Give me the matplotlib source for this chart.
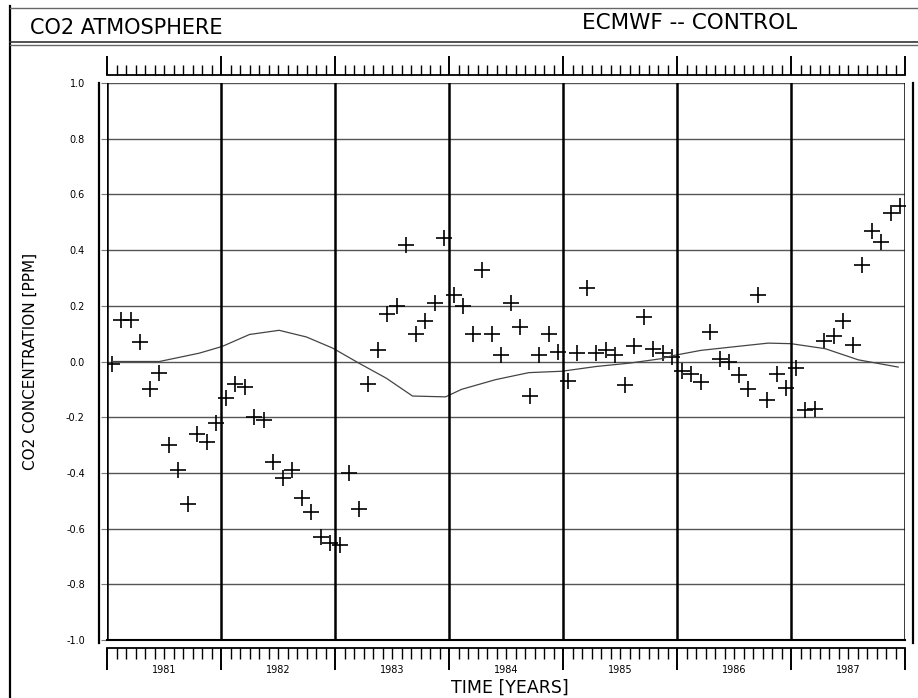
import numpy as np
import matplotlib
matplotlib.use('Agg')
import matplotlib.pyplot as plt
from matplotlib.lines import Line2D
from matplotlib.ticker import MultipleLocator

plt.rcParams['font.family'] = ['DejaVu Sans']

# monthly CO2 anomalies (ppm), one list per year
years = [1981, 1982, 1983, 1984, 1985, 1986, 1987]
co2_1981 = [-0.01, 0.15, 0.15, 0.07, -0.10, -0.04, -0.30, -0.39, -0.51, -0.26, -0.29, -0.22]
co2_1982 = [-0.13, -0.08, -0.09, -0.20, -0.21, -0.36, -0.42, -0.39, -0.49, -0.54, -0.63, -0.65]
co2_1983 = [-0.66, -0.40, -0.53, -0.08, 0.04, 0.17, 0.20, 0.42, 0.10, 0.145, 0.21, 0.445]
co2_1984 = [0.24, 0.20, 0.10, 0.33, 0.10, 0.025, 0.21, 0.125, -0.125, 0.025, 0.10, 0.035]
co2_1985 = [-0.07, 0.03, 0.265, 0.03, 0.04, 0.025, -0.085, 0.055, 0.16, 0.045, 0.03, 0.015]
co2_1986 = [-0.035, -0.045, -0.075, 0.105, 0.01, 0.0, -0.05, -0.10, 0.24, -0.14, -0.045, -0.095]
co2_1987 = [-0.025, -0.175, -0.17, 0.075, 0.09, 0.145, 0.06, 0.345, 0.47, 0.43, 0.535, 0.56]

# smooth curve (time in years, value in ppm)
line_t = [1981.05, 1981.46, 1981.81, 1982.01, 1982.25, 1982.51, 1982.75, 1982.98,
          1983.21, 1983.45, 1983.68, 1983.97, 1984.11, 1984.41, 1984.70, 1984.99,
          1985.29, 1985.58, 1985.86, 1985.95, 1986.21, 1986.48, 1986.80, 1987.00,
          1987.30, 1987.59, 1987.94]
line_v = [0.0, 0.0, 0.03, 0.054, 0.097, 0.112, 0.088, 0.048,
          -0.006, -0.06, -0.124, -0.127, -0.10, -0.065, -0.04, -0.035,
          -0.018, -0.006, 0.01, 0.02, 0.04, 0.052, 0.066, 0.064,
          0.046, 0.006, -0.02]

ytick_vals = [-1.0, -0.8, -0.6, -0.4, -0.2, 0.0, 0.2, 0.4, 0.6, 0.8, 1.0]

co2 = co2_1981 + co2_1982 + co2_1983 + co2_1984 + co2_1985 + co2_1986 + co2_1987
t = [y + (m + 0.5) / 12.0 for y in years for m in range(12)]

W, H = 918, 698
fig = plt.figure(figsize=(W / 100, H / 100), dpi=100)

def fx(px):
    return px / W

def fy(py):
    return 1 - py / H

def fline(xs, ys, lw=1.0, color='k'):
    fig.add_artist(Line2D([fx(x) for x in xs], [fy(y) for y in ys], lw=lw, color=color,
                          transform=fig.transFigure))

# page frame / header box
fline([10, 10], [6, 698], lw=1.6)
fline([10, 918], [8, 8], lw=1.0, color='#666666')
fline([10, 918], [42, 42], lw=1.2, color='#333333')
fline([10, 918], [45, 45], lw=1.0, color='#666666')
fig.text(fx(30), fy(28), 'CO2 ATMOSPHERE', fontsize=15, va='center', ha='left')
fig.text(fx(582), fy(23), 'ECMWF -- CONTROL', fontsize=15.5, va='center', ha='left')

# main plot area
ax = fig.add_axes([fx(107), fy(640), fx(905) - fx(107), fy(83) - fy(640)])
ax.plot(t, co2, linestyle='none', marker='+', markersize=11.5, mew=1.2, color='k')
ax.plot(line_t, line_v, color='#444444', lw=0.9)
ax.set_xlim(1981, 1988)
ax.set_ylim(-1.0, 1.0)
for y in years + [1988]:
    ax.axvline(y, color='k', lw=1.8)
ax.set_yticks(ytick_vals)
ax.set_yticklabels(['%.1f' % v for v in ytick_vals], fontsize=7)
ax.yaxis.grid(True, color='#555555', lw=1.0)
ax.set_xticks([])
ax.tick_params(axis='y', length=4, width=0.8, pad=12, color='#777777')
for s in ax.spines.values():
    s.set_visible(False)
ax.spines['bottom'].set_visible(True)
ax.spines['bottom'].set_linewidth(1.5)
ax.set_ylabel('CO2 CONCENTRATION [PPM]', fontsize=11, labelpad=20)

# double outer frame lines
fline([99, 99], [83, 643], lw=1.6)
fline([913, 913], [83, 643], lw=1.6)

# top ruler
axt = fig.add_axes([fx(107), fy(75), fx(905) - fx(107), 15 / H])
axt.set_xlim(1981, 1988)
axt.set_ylim(0, 1)
axt.xaxis.set_major_locator(MultipleLocator(1))
axt.xaxis.set_minor_locator(MultipleLocator(1 / 12))
axt.tick_params(axis='x', which='major', direction='in', length=14, width=1.4, labelbottom=False)
axt.tick_params(axis='x', which='minor', direction='in', length=7, width=1.0)
axt.set_yticks([])
for k in ['top', 'left', 'right']:
    axt.spines[k].set_visible(False)
axt.spines['bottom'].set_linewidth(1.3)
axt.patch.set_alpha(0)

# bottom ruler
axb = fig.add_axes([fx(107), fy(665), fx(905) - fx(107), 17 / H])
axb.set_xlim(1981, 1988)
axb.set_ylim(0, 1)
axb.xaxis.set_major_locator(MultipleLocator(1))
axb.xaxis.set_minor_locator(MultipleLocator(1 / 12))
axb.xaxis.set_ticks_position('top')
axb.tick_params(axis='x', which='major', direction='in', length=16, width=1.4, labeltop=False)
axb.tick_params(axis='x', which='minor', direction='in', length=8, width=1.0)
axb.set_yticks([])
for k in ['bottom', 'left', 'right']:
    axb.spines[k].set_visible(False)
axb.spines['top'].set_linewidth(1.3)
axb.patch.set_alpha(0)
for y in years:
    fig.text(fx(107) + (y + 0.5 - 1981) / 7 * (fx(905) - fx(107)), fy(670), str(y),
             fontsize=7, ha='center', va='center')
fig.text(fx(510), fy(688), 'TIME [YEARS]', fontsize=12.5, ha='center', va='center')

plt.savefig('out.png', dpi=100)
